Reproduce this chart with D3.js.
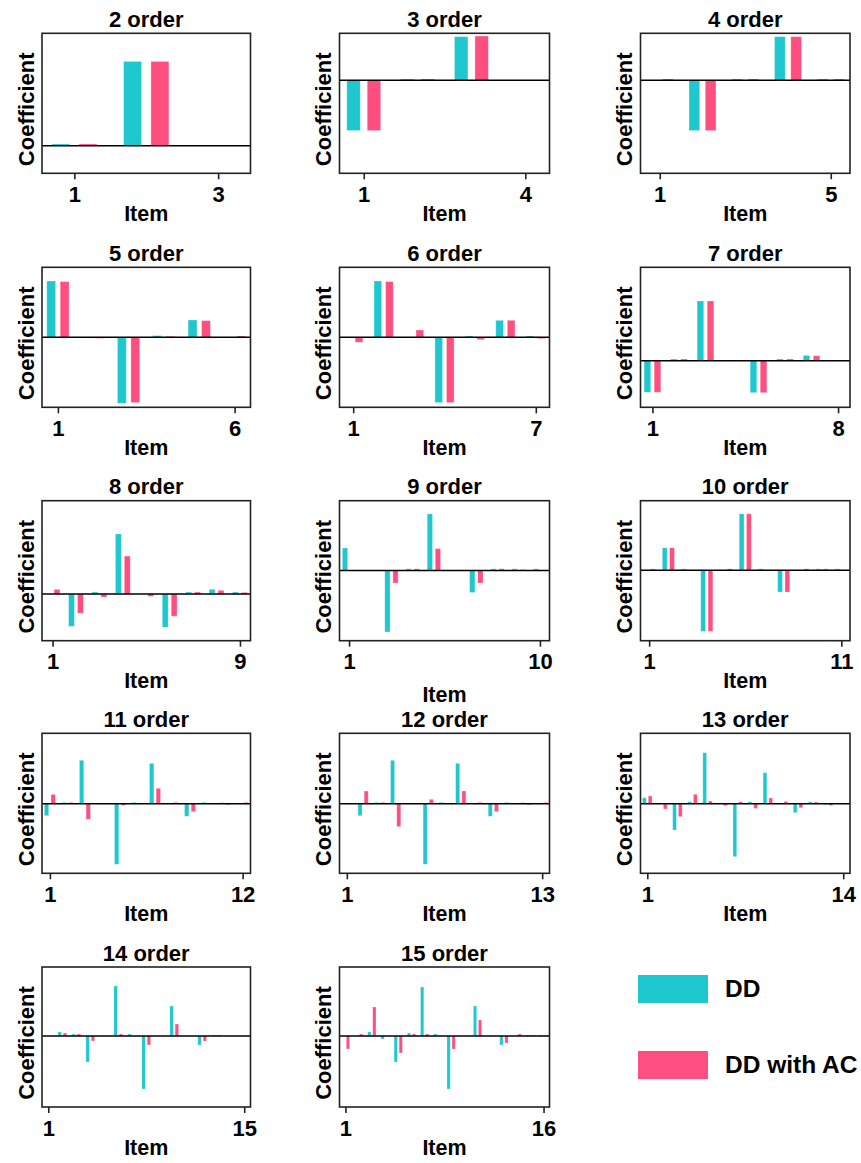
<!DOCTYPE html>
<html><head><meta charset="utf-8">
<script src="https://cdn.jsdelivr.net/npm/d3@7"></script>
<style>
body{margin:0;background:#fff}
text{font-family:"Liberation Sans",Arial,sans-serif;font-weight:bold;fill:#000}
</style>
</head><body>
<svg id="chart" width="861" height="1163"></svg>
<script>
const orders = [2,3,4,5,6,7,8,9,10,11,12,13,14,15];
const seriesNames = ["DD","DD with AC"];
const ddCoef = [
  [0.017, 0.843, 0],
  [-0.503, 0.013, 0.437, 0],
  [0, -0.503, 0.013, 0.437, 0.013],
  [0.563, 0, -0.66, 0.017, 0.173, 0],
  [0, 0.563, 0, -0.653, 0.013, 0.17, 0.013],
  [-0.316, 0.017, 0.597, 0, -0.32, 0.017, 0.053, 0],
  [0, -0.32, 0.02, 0.597, 0, -0.33, 0.02, 0.047, 0.02],
  [0.223, 0, -0.607, 0.017, 0.56, 0, -0.217, 0.017, 0.017, 0.017],
  [0, 0.223, 0.013, -0.607, 0, 0.56, 0.013, -0.217, 0, 0.013, 0.013],
  [-0.12, 0.013, 0.434, 0, -0.606, 0.013, 0.404, 0, -0.126, 0.013, 0.01, 0],
  [0, -0.12, 0.013, 0.434, 0, -0.606, 0.013, 0.404, 0, -0.126, 0.013, 0.01, 0],
  [0.06, 0, -0.263, 0.02, 0.51, 0, -0.53, 0.02, 0.31, 0, -0.09, 0.02, -0.01, 0],
  [0, 0.04, 0.02, -0.26, 0, 0.5, 0.02, -0.53, 0, 0.3, 0, -0.09, 0.01, 0, 0],
  [0, 0, 0.04, -0.03, -0.26, 0.03, 0.49, 0.02, -0.53, 0, 0.3, 0, -0.09, 0, 0.01, 0.01]
];
const acCoef = [
  [0.017, 0.843, 0],
  [-0.503, 0.013, 0.443, 0],
  [0.013, -0.503, 0.013, 0.437, 0.013],
  [0.557, -0.01, -0.653, 0.01, 0.167, 0.013],
  [-0.05, 0.557, 0.073, -0.653, -0.023, 0.17, -0.013],
  [-0.316, 0.017, 0.597, 0, -0.32, 0.017, 0.05, 0],
  [0.047, -0.19, -0.03, 0.377, -0.023, -0.22, 0.02, 0.037, 0.017],
  [0, 0, -0.123, 0.017, 0.217, 0, -0.123, 0.017, 0.01, 0],
  [0.013, 0.223, 0, -0.607, 0.013, 0.56, 0, -0.217, 0.013, 0.013, 0],
  [0.093, 0.013, -0.156, 0, -0.017, 0, 0.154, 0.013, -0.08, 0, -0.01, 0.013],
  [0, 0.127, 0.013, -0.23, 0, 0.044, 0, 0.127, 0.013, -0.08, 0, -0.01, 0.013],
  [0.077, -0.053, -0.13, 0.094, 0.027, -0.02, 0.02, -0.047, 0.057, 0.023, -0.04, 0.017, -0.017, 0],
  [0, 0.03, 0.02, -0.05, 0, 0.02, 0, -0.09, 0, 0.12, 0, -0.05, 0.01, 0, 0],
  [-0.13, 0.02, 0.29, 0, -0.17, 0.02, 0.02, 0, -0.13, 0, 0.16, 0, -0.07, 0.02, 0.01, 0.01]
];
const yTop    = [1.124, 0.47, 0.47, 0.70, 0.70, 0.934, 0.927, 0.69, 0.69, 0.704, 0.704, 0.704, 0.69, 0.69];
const yBottom = [-0.276, -0.93, -0.93, -0.70, -0.70, -0.466, -0.463, -0.693, -0.70, -0.696, -0.696, -0.696, -0.71, -0.71];

const colors = ["#1FC8CF", "#FF4F80"];
const colX = [[42, 250.5], [339.5, 549.5], [640.5, 850]];
const rowY = [33.3, 267.3, 500.7, 733.3, 967];
const panelH = 140;
const FS = 22;

const svg = d3.select("#chart");

orders.forEach((ord, i) => {
  const col = i % 3, row = Math.floor(i / 3);
  const [x0, x1] = colX[col];
  const y0 = rowY[row], y1 = y0 + panelH;
  const n = ord + 1;
  const items = d3.range(1, n + 1);
  const x = d3.scaleLinear().domain([0.55, n + 0.45]).range([x0, x1]);
  const y = d3.scaleLinear().domain([yBottom[i], yTop[i]]).range([y1, y0]);
  const g = svg.append("g");
  const off = 0.19, bw = 0.25;
  [ddCoef[i], acCoef[i]].forEach((vals, s) => {
    g.selectAll(null).data(items).enter().append("rect")
      .attr("x", k => x(k + (s === 0 ? -off : off) - bw / 2))
      .attr("width", k => x(k + bw) - x(k))
      .attr("y", k => y(Math.max(0, vals[k - 1])))
      .attr("height", k => Math.abs(y(vals[k - 1]) - y(0)))
      .attr("fill", colors[s])
      .attr("stroke", "#fff").attr("stroke-opacity", 0.35).attr("stroke-width", 0.8);
  });
  g.append("line").attr("x1", x0).attr("x2", x1).attr("y1", y(0)).attr("y2", y(0))
    .attr("stroke", "#000").attr("stroke-width", 1.5);
  g.append("rect").attr("x", x0).attr("y", y0).attr("width", x1 - x0).attr("height", panelH)
    .attr("fill", "none").attr("stroke", "#222").attr("stroke-width", 1.6);
  const ax = g.append("g").attr("transform", `translate(0,${y1})`)
    .call(d3.axisBottom(x).tickValues([1, n]).tickFormat(d3.format("d")).tickSize(6).tickPadding(7));
  ax.select(".domain").remove();
  ax.selectAll("line").attr("stroke", "#222").attr("stroke-width", 1.6);
  ax.selectAll("text").attr("font-size", FS).attr("font-family", null).attr("fill", "#000");
  g.append("text").attr("x", (x0 + x1) / 2).attr("y", y0 - 6.5)
    .attr("text-anchor", "middle").attr("font-size", FS).text(ord + " order");
  g.append("text").attr("x", (x0 + x1) / 2).attr("y", y1 + 47.5 + (ord === 9 ? 14 : 0))
    .attr("text-anchor", "middle").attr("font-size", 21.5).text("Item");
  g.append("text").attr("transform", `translate(${x0 - 8.5},${y0 + panelH / 2 + 6}) rotate(-90)`)
    .attr("text-anchor", "middle").attr("font-size", FS).text("Coefficient");
});

// legend
const lg = svg.append("g");
seriesNames.forEach((name, s) => {
  const ly = 975 + s * 76;
  lg.append("rect").attr("x", 638).attr("y", ly).attr("width", 70).attr("height", 28).attr("fill", colors[s]);
  lg.append("text").attr("x", 725).attr("y", ly + 22).attr("font-size", 24.5).text(name);
});
</script>
</body></html>
